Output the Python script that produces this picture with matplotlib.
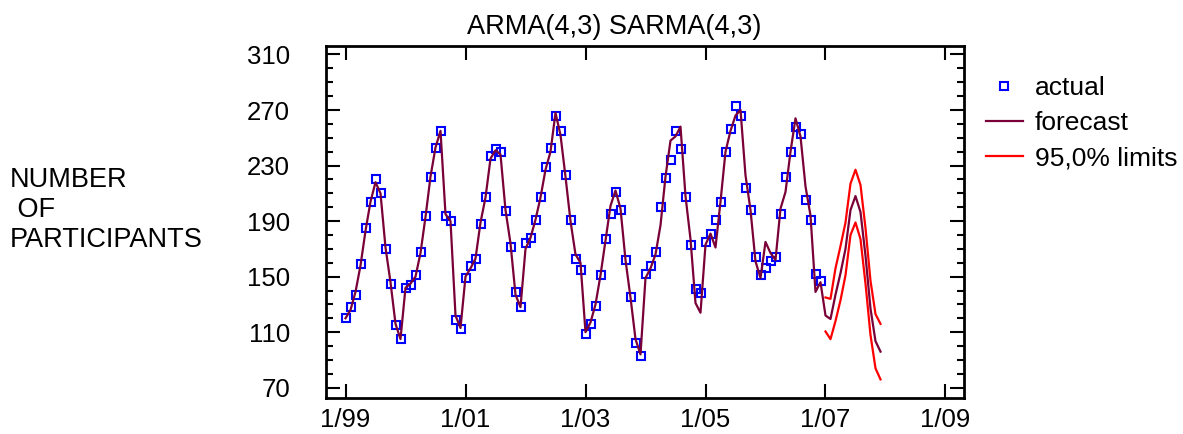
import numpy as np
import matplotlib.pyplot as plt
from matplotlib.ticker import FixedLocator, MultipleLocator

plt.rcParams['font.family'] = ['Liberation Sans', 'DejaVu Sans']

# monthly data, month 0 = 1/99
actual = [120, 128, 137, 159, 185, 204, 220, 210, 170, 145, 115, 105,
          142, 144, 151, 168, 194, 222, 243, 255, 194, 190, 119, 112,
          149, 158, 163, 188, 207, 237, 242, 240, 197, 171, 139, 128,
          174, 178, 191, 207, 229, 243, 266, 255, 223, 191, 163, 155,
          109, 116, 129, 151, 177, 195, 211, 198, 162, 135, 102, 93,
          152, 158, 168, 200, 221, 234, 255, 242, 207, 173, 141, 138,
          175, 181, 191, 204, 240, 256, 273, 266, 214, 198, 164, 151,
          156, 161, 164, 195, 222, 240, 258, 253, 205, 191, 152, 147]

forecast = [120, 126, 139, 158, 183, 204, 218, 210, 171, 146, 116, 105,
            142, 145, 150, 167, 193, 222, 243, 255, 195, 190, 122, 113,
            150, 156, 163, 189, 207, 235, 241, 238, 198, 174, 137, 128,
            170, 178, 191, 207, 227, 240, 268, 252, 222, 190, 166, 160,
            110, 117, 130, 151, 176, 201, 212, 199, 162, 135, 105, 94,
            149, 156, 166, 187, 222, 248, 251, 258, 208, 177, 131, 124,
            173, 181, 171, 204, 240, 255, 266, 270, 223, 198, 161, 149,
            175, 167, 162, 199, 211, 240, 264, 251, 215, 194, 139, 146,
            122, 119.5, 137, 152.5, 170, 198, 208, 196.5, 165, 127, 103.5, 96]

upper = [135, 134, 156, 172, 189, 217, 227, 216, 185, 147, 123, 116]
lower = [110.5, 105, 118, 133, 151, 180, 189, 177, 145, 108, 84, 76]

x_ticks = [0, 24, 48, 72, 96, 120]
x_labels = ['1/99', '1/01', '1/03', '1/05', '1/07', '1/09']
y_ticks = [70, 110, 150, 190, 230, 270, 310]

t_actual = np.arange(len(actual))
t_fc = np.arange(len(forecast))
t_lim = np.arange(len(actual), len(actual) + len(upper))

W, H = 1183, 434
fig = plt.figure(figsize=(W / 100, H / 100), dpi=100)
ax = fig.add_axes([326 / W, 36 / H, (964 - 326) / W, (398 - 46) / H])

ax.plot(t_actual, actual, ls='none', marker='s', ms=6, mfc='none',
        mec='#0000ff', mew=1.5, label='actual', zorder=2)
ax.plot(t_fc, forecast, color='#7a0038', lw=1.6, label='forecast', zorder=3)
ax.plot(t_lim, upper, color='#ff0000', lw=1.6, label='95,0% limits', zorder=3)
ax.plot(t_lim, lower, color='#ff0000', lw=1.6, zorder=3)

ax.set_xlim(-3.9, 123.7)
ax.set_ylim(62.6, 316.1)
ax.xaxis.set_major_locator(FixedLocator(x_ticks))
ax.set_xticklabels(x_labels)
ax.yaxis.set_major_locator(FixedLocator(y_ticks))
ax.yaxis.set_minor_locator(MultipleLocator(10))

for s in ax.spines.values():
    s.set_linewidth(2)
ax.tick_params(which='both', direction='in', top=True, right=True,
               width=1.5, labelsize=18.5)
ax.tick_params(which='major', length=10)
ax.tick_params(which='minor', length=5)
ax.tick_params(axis='y', pad=26)
ax.tick_params(axis='x', pad=7)

fig.text(614 / W, 1 - 27 / H, 'ARMA(4,3) SARMA(4,3)', ha='center',
         va='center', fontsize=19.5)
fig.text(10 / W, 1 - 210 / H, 'NUMBER\n OF\nPARTICIPANTS', ha='left',
         va='center', fontsize=19.5, linespacing=1.2)

ax.legend(loc='upper left', bbox_to_anchor=(986 / W, 1 - 76 / H),
          bbox_transform=fig.transFigure, frameon=False, fontsize=19,
          handlelength=1.4, handletextpad=0.45, labelspacing=0.42,
          borderpad=0, borderaxespad=0)

fig.savefig('out.png', dpi=100)
